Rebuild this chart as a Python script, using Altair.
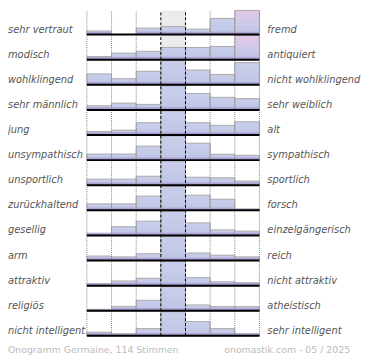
import altair as alt
import pandas as pd

left_labels = ["sehr vertraut", "modisch", "wohlklingend", "sehr männlich", " jung",
               "unsympathisch", "unsportlich", "zurückhaltend", "gesellig", "arm",
               "attraktiv", "religiös", "nicht intelligent"]
right_labels = ["fremd", "antiquiert", "nicht wohlklingend", "sehr weiblich", "alt",
                "sympathisch", "sportlich", "forsch", "einzelgängerisch", "reich",
                "nicht attraktiv", "atheistisch", "sehr intelligent"]

# bar heights per row (7 answer columns), full = 25
r01 = [3.7, 0, 6.7, 8.3, 5.7, 16.7, 25]
r02 = [3.3, 6.7, 8.7, 12.7, 12.7, 13.7, 25]
r03 = [11.3, 6.3, 14, 25, 15.3, 10.6, 23]
r04 = [4.3, 7, 5.7, 25, 17, 13, 11.7]
r05 = [3.7, 5, 12.7, 25, 12.7, 10, 13.7]
r06 = [6.3, 6.3, 14.5, 25, 17.5, 6, 5]
r07 = [6.3, 6.3, 9.3, 25, 8.3, 7.7, 4.3]
r08 = [6.7, 6.7, 14.7, 25, 15.7, 11.5, 1.5]
r09 = [2.3, 9, 14.7, 25, 13, 5.7, 4.5]
r10 = [4.7, 3.8, 7, 25, 7.8, 5.5, 3.8]
r11 = [2.2, 4.8, 7.7, 25, 8.3, 4, 3]
r12 = [1.5, 4.5, 10.8, 25, 6, 4.3, 4.3]
r13 = [3.8, 2.3, 7.5, 25, 14.8, 7.5, 2.5]
heights = [r01, r02, r03, r04, r05, r06, r07, r08, r09, r10, r11, r12, r13]

footer_left = "Onogramm Germaine, 114 Stimmen"
footer_right = "onomastik.com - 05 / 2025"

PITCH = 26
NROWS = len(heights)
YMAX = (NROWS - 1) * PITCH + 25
W, H = 175, 330

recs = []
for r, row in enumerate(heights):
    base = (NROWS - 1 - r) * PITCH
    for c, h in enumerate(row):
        recs.append(dict(row=r, col=c, col2=c + 1, h=h, base=base,
                         top=base + h, stripe=base + min(h, 3)))
bars = pd.DataFrame(recs)
bars = bars[bars.h > 0]

labels = pd.DataFrame(dict(left=left_labels, right=right_labels,
                           base=[(NROWS - 1 - r) * PITCH for r in range(NROWS)]))

xs = alt.Scale(domain=[0, 7], nice=False, zero=False)
ys = alt.Scale(domain=[0, YMAX], nice=False, zero=False)

bg = alt.Chart(pd.DataFrame(dict(a=[3], b=[4], y0=[0], y1=[YMAX]))).mark_rect(
    fill="#ebebeb").encode(
    x=alt.X("a:Q", scale=xs, axis=None), x2="b:Q",
    y=alt.Y("y0:Q", scale=ys, axis=None), y2="y1:Q")

blue = {"gradient": "linear", "x1": 0, "y1": 0, "x2": 0, "y2": 1,
        "stops": [{"offset": 0, "color": "#c9cfea"}, {"offset": 1, "color": "#bec4e5"}]}
pink = {"gradient": "linear", "x1": 0, "y1": 0, "x2": 0, "y2": 1,
        "stops": [{"offset": 0, "color": "#e4c7e6"}, {"offset": 0.5, "color": "#d0c9e8"},
                  {"offset": 1, "color": "#bec3e5"}]}
stripe_grad = {"gradient": "linear", "x1": 0, "y1": 0, "x2": 0, "y2": 1,
               "stops": [{"offset": 0, "color": "#b5aeda"}, {"offset": 1, "color": "#9d94c9"}]}

barl = alt.Chart(bars).mark_rect(stroke="#aaaaaa", strokeWidth=1).encode(
    x=alt.X("col:Q", scale=xs, axis=None), x2="col2:Q",
    y=alt.Y("base:Q", scale=ys, axis=None), y2="top:Q",
    fill=alt.condition("datum.h >= 24 && datum.col != 3", alt.value(pink), alt.value(blue)))

stripel = alt.Chart(bars).mark_rect(fill=stripe_grad).encode(
    x=alt.X("col:Q", scale=xs, axis=None), x2="col2:Q",
    y=alt.Y("base:Q", scale=ys, axis=None), y2="stripe:Q")

grid_dot = alt.Chart(pd.DataFrame(dict(gx=[0, 1, 2, 5, 6, 7], y0=0, y1=YMAX))).mark_rule(
    color="#888", strokeWidth=1, strokeDash=[1, 1]).encode(
    x=alt.X("gx:Q", scale=xs, axis=None),
    y=alt.Y("y0:Q", scale=ys, axis=None), y2="y1:Q")

grid_dash = alt.Chart(pd.DataFrame(dict(gx=[3, 4], y0=0, y1=YMAX))).mark_rule(
    color="#000", strokeWidth=1, strokeDash=[3, 2]).encode(
    x=alt.X("gx:Q", scale=xs, axis=None),
    y=alt.Y("y0:Q", scale=ys, axis=None), y2="y1:Q")

baselines = alt.Chart(labels).mark_rule(color="#000", strokeWidth=2).encode(
    x=alt.value(0), x2=alt.value(W),
    y=alt.Y("base:Q", scale=ys, axis=None))

ltext = alt.Chart(labels).mark_text(
    align="left", baseline="alphabetic", font="DejaVu Sans", fontStyle="italic",
    fontSize=10, color="#555", dy=-2).encode(
    x=alt.value(-80), y=alt.Y("base:Q", scale=ys, axis=None), text="left:N")

rtext = alt.Chart(labels).mark_text(
    align="left", baseline="alphabetic", font="DejaVu Sans", fontStyle="italic",
    fontSize=10, color="#555", dy=-2).encode(
    x=alt.value(W + 8), y=alt.Y("base:Q", scale=ys, axis=None), text="right:N")

foot = pd.DataFrame(dict(t=[footer_left, footer_right]))
fl = alt.Chart(foot.iloc[[0]]).mark_text(
    align="left", baseline="alphabetic", font="DejaVu Sans", fontSize=9.5,
    color="#bbbbbb").encode(x=alt.value(-80), y=alt.value(H + 17), text="t:N")
fr = alt.Chart(foot.iloc[[1]]).mark_text(
    align="right", baseline="alphabetic", font="DejaVu Sans", fontSize=9.5,
    color="#bbbbbb").encode(x=alt.value(267), y=alt.value(H + 17), text="t:N")

chart = alt.layer(bg, barl, stripel, grid_dot, grid_dash, baselines, ltext, rtext, fl, fr).properties(
    width=W, height=H,
    padding={"left": 80, "top": 0, "right": 104, "bottom": 22},
    autosize=alt.AutoSizeParams(type="none"),
).configure_view(stroke=None)

chart.save("out.html", embed_options={"renderer": "svg", "actions": False})
